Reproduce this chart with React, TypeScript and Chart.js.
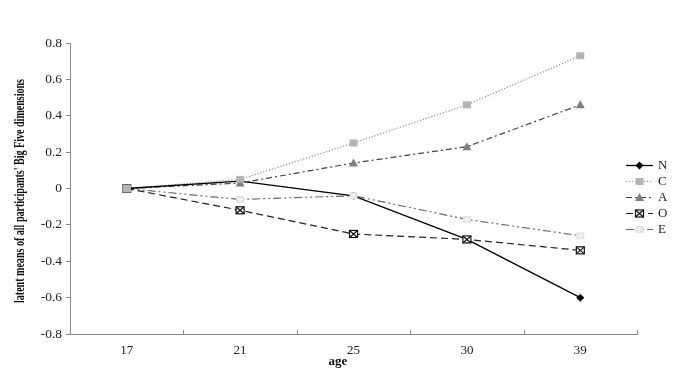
import React, { useEffect, useRef } from "react";
import { Chart, registerables } from "chart.js";

Chart.register(...registerables);

const ages = ["17", "21", "25", "30", "39"];
const seriesN = [0, 0.04, -0.04, -0.28, -0.6];
const seriesC = [0, 0.05, 0.25, 0.46, 0.73];
const seriesA = [0, 0.03, 0.14, 0.23, 0.46];
const seriesO = [0, -0.12, -0.25, -0.28, -0.34];
const seriesE = [0, -0.06, -0.04, -0.17, -0.26];
const legendLabels = ["N", "C", "A", "O", "E"];
const yTitle = "latent means of all participants' Big Five dimensions";
const xTitle = "age";

const SERIF = "'Liberation Serif', 'DejaVu Serif', serif";

type MarkerKind = "diamond" | "square" | "triangle" | "boxX" | "boxPlus";

function drawMarker(ctx: CanvasRenderingContext2D, kind: MarkerKind, x: number, y: number) {
  ctx.save();
  ctx.setLineDash([]);
  if (kind === "diamond") {
    ctx.fillStyle = "#000";
    ctx.beginPath();
    ctx.moveTo(x, y - 4);
    ctx.lineTo(x + 4, y);
    ctx.lineTo(x, y + 4);
    ctx.lineTo(x - 4, y);
    ctx.closePath();
    ctx.fill();
  } else if (kind === "square") {
    ctx.fillStyle = "#b3b3b3";
    ctx.fillRect(x - 4, y - 3.5, 8, 7);
  } else if (kind === "triangle") {
    ctx.fillStyle = "#7f7f7f";
    ctx.beginPath();
    ctx.moveTo(x, y - 4.5);
    ctx.lineTo(x + 4.5, y + 3.5);
    ctx.lineTo(x - 4.5, y + 3.5);
    ctx.closePath();
    ctx.fill();
  } else if (kind === "boxX") {
    ctx.fillStyle = "#fff";
    ctx.fillRect(x - 4, y - 3.5, 8, 7);
    ctx.strokeStyle = "#111";
    ctx.lineWidth = 1.2;
    ctx.strokeRect(x - 4, y - 3.5, 8, 7);
    ctx.beginPath();
    ctx.moveTo(x - 4, y - 3.5);
    ctx.lineTo(x + 4, y + 3.5);
    ctx.moveTo(x + 4, y - 3.5);
    ctx.lineTo(x - 4, y + 3.5);
    ctx.stroke();
  } else if (kind === "boxPlus") {
    ctx.fillStyle = "#e2e2e2";
    ctx.fillRect(x - 4, y - 3.5, 8, 7);
    ctx.strokeStyle = "#f8f8f8";
    ctx.lineWidth = 1;
    ctx.beginPath();
    ctx.moveTo(x - 3, y);
    ctx.lineTo(x + 3, y);
    ctx.moveTo(x, y - 2.5);
    ctx.lineTo(x, y + 2.5);
    ctx.stroke();
  }
  ctx.restore();
}

const markers: MarkerKind[] = ["diamond", "square", "triangle", "boxX", "boxPlus"];
const lineColors = ["#000000", "#8c8c8c", "#444444", "#222222", "#6a6a6a"];
const dashes: number[][] = [[], [1.2, 1.8], [6, 3, 2, 3], [7, 4], [8, 3, 2, 3, 2, 3]];
const seriesList = [seriesN, seriesC, seriesA, seriesO, seriesE];
const markerDrawOrder = [0, 2, 3, 4, 1];

const overlayPlugin = {
  id: "overlay",
  afterDatasetsDraw(chart: any) {
    const ctx: CanvasRenderingContext2D = chart.ctx;
    markerDrawOrder.forEach((i) => {
      const meta = chart.getDatasetMeta(i);
      meta.data.forEach((pt: any) => drawMarker(ctx, markers[i], pt.x, pt.y));
    });
  },
  afterDraw(chart: any) {
    const ctx: CanvasRenderingContext2D = chart.ctx;
    const xs = chart.scales.x;
    const area = chart.chartArea;
    ctx.save();
    ctx.strokeStyle = "#8a8a8a";
    ctx.lineWidth = 1;
    const n = ages.length;
    const step = n > 1 ? xs.getPixelForValue(1) - xs.getPixelForValue(0) : 0;
    for (let i = 0; i <= n; i++) {
      const px = Math.round(xs.getPixelForValue(0) - step / 2 + i * step) + 0.5;
      ctx.beginPath();
      ctx.moveTo(px, area.bottom);
      ctx.lineTo(px, area.bottom - 4);
      ctx.stroke();
    }
    ctx.restore();

    // legend
    ctx.save();
    const lx0 = 626, lx1 = 653, ly0 = 165.5, lgap = 16;
    legendLabels.forEach((lab, i) => {
      const y = ly0 + i * lgap;
      ctx.strokeStyle = lineColors[i];
      ctx.lineWidth = i === 0 ? 1.3 : 1.2;
      ctx.setLineDash(dashes[i]);
      ctx.beginPath();
      ctx.moveTo(lx0, y);
      ctx.lineTo(lx1, y);
      ctx.stroke();
      drawMarker(ctx, markers[i], (lx0 + lx1) / 2, y);
      ctx.setLineDash([]);
      ctx.fillStyle = "#222";
      ctx.font = "13px " + SERIF;
      ctx.textAlign = "left";
      ctx.textBaseline = "middle";
      ctx.fillText(lab, 658, y + 0.5);
    });
    ctx.restore();

    // y title (condensed bold)
    ctx.save();
    ctx.font = "bold 13px " + SERIF;
    ctx.fillStyle = "#111";
    const w = ctx.measureText(yTitle).width;
    const target = 224;
    ctx.translate(19.5, 191);
    ctx.rotate(-Math.PI / 2);
    ctx.scale(target / w, 1.2);
    ctx.textAlign = "center";
    ctx.textBaseline = "middle";
    ctx.fillText(yTitle, 0, 0);
    ctx.restore();

    // x title
    ctx.save();
    ctx.font = "bold 13px " + SERIF;
    ctx.fillStyle = "#111";
    ctx.textAlign = "center";
    ctx.textBaseline = "middle";
    ctx.fillText(xTitle, 338, 362);
    ctx.restore();
  },
};

export default function App() {
  const ref = useRef<HTMLCanvasElement | null>(null);
  useEffect(() => {
    if (!ref.current) return;
    const chart = new Chart(ref.current, {
      type: "line",
      data: {
        labels: ages,
        datasets: seriesList.map((s, i) => ({
          label: legendLabels[i],
          data: s,
          borderColor: lineColors[i],
          borderWidth: i === 0 ? 1.3 : 1.2,
          borderDash: dashes[i],
          pointRadius: 0,
          pointHoverRadius: 0,
          fill: false,
          tension: 0,
        })),
      },
      options: {
        animation: false,
        responsive: true,
        maintainAspectRatio: false,
        events: [],
        layout: { padding: { left: 0, right: 40, top: 43, bottom: 0 } },
        plugins: {
          legend: { display: false },
          tooltip: { enabled: false },
          title: { display: false },
        },
        scales: {
          x: {
            type: "category",
            offset: true,
            grid: { display: false, offset: true },
            border: { display: true, color: "#8a8a8a", width: 1 },
            ticks: {
              color: "#222",
              font: { family: SERIF, size: 13 },
              padding: 1,
              maxRotation: 0,
            },
            afterFit: (scale: any) => {
              scale.height = 50;
            },
          },
          y: {
            min: -0.8,
            max: 0.8,
            grid: {
              display: true,
              drawOnChartArea: false,
              drawTicks: true,
              tickLength: 4,
              color: "#8a8a8a",
            },
            border: { display: true, color: "#8a8a8a", width: 1 },
            ticks: {
              stepSize: 0.2,
              color: "#222",
              font: { family: SERIF, size: 13.5 },
              padding: 4,
              callback: (v: any) => {
                const n = Math.round(Number(v) * 10) / 10;
                return n === 0 ? "0" : n.toFixed(1);
              },
            },
            afterFit: (scale: any) => {
              scale.width = 70;
            },
          },
        },
      },
      plugins: [overlayPlugin],
    } as any);
    return () => chart.destroy();
  }, []);
  return (
    <div style={{ position: "fixed", left: 0, top: 0, width: 677, height: 384, background: "#fff" }}>
      <canvas ref={ref} />
    </div>
  );
}
